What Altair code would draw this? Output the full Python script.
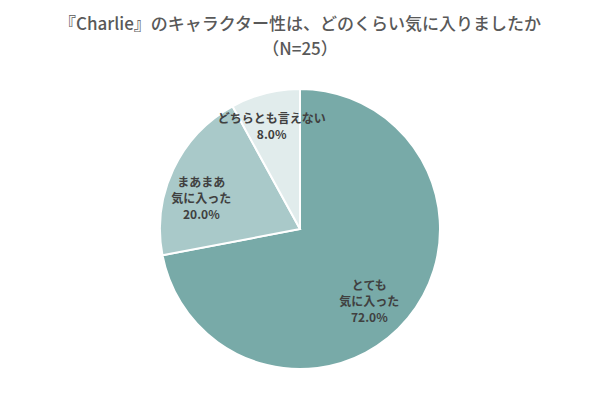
import altair as alt
import pandas as pd

categories = ["とても気に入った", "まあまあ気に入った", "どちらとも言えない"]
label_lines = [["とても", "気に入った"], ["まあまあ", "気に入った"], ["どちらとも言えない"]]
percents = [72.0, 20.0, 8.0]
colors = ["#78aaa8", "#a9c9c9", "#e1ecec"]

df = pd.DataFrame({
    "category": categories,
    "value": percents,
    "order": list(range(len(categories))),
    "label": ["\n".join(l + [f"{v:.1f}%"]) for l, v in zip(label_lines, percents)],
})

FONT = "Noto Sans CJK JP"
CX, CY = 292, 158
theta_scale = alt.Scale(domain=[0, 100], range=[0, 6.283185307])


def stacked():
    return alt.Chart(df).transform_window(
        cum="sum(value)", sort=[alt.SortField("order")]
    ).transform_calculate(
        start="datum.cum - datum.value",
        mid="datum.cum - datum.value / 2",
    )


arcs = stacked().mark_arc(outerRadius=140, stroke="white", strokeWidth=2).encode(
    theta=alt.Theta("start:Q", scale=theta_scale),
    theta2="cum:Q",
    x=alt.value(CX), y=alt.value(CY),
    color=alt.Color("category:N", scale=alt.Scale(domain=categories, range=colors), legend=None),
)

texts = []
for cat, r in zip(categories, [90, 109, 114]):
    t = stacked().transform_filter(alt.datum.category == cat).mark_text(
        radius=r, font=FONT, fontSize=12, color="#404040",
        lineBreak="\n", lineHeight=16, fontWeight="bold"
    ).encode(
        theta=alt.Theta("mid:Q", scale=theta_scale),
        x=alt.value(CX), y=alt.value(CY),
        text="label:N",
    )
    texts.append(t)

chart = alt.layer(arcs, *texts).properties(
    width=584, height=318,
    padding={"top": 8, "left": 0, "right": 0, "bottom": 0},
    background="white",
    title=alt.TitleParams(
        text=["『Charlie』のキャラクター性は、どのくらい気に入りましたか", "（N=25）"],
        font=FONT, fontSize=17, fontWeight=500, color="#595959",
        anchor="middle", lineHeight=25, offset=12,
    ),
).configure_view(strokeWidth=0, stroke=None)

chart.save("out.html", embed_options={"renderer": "svg", "actions": False})
